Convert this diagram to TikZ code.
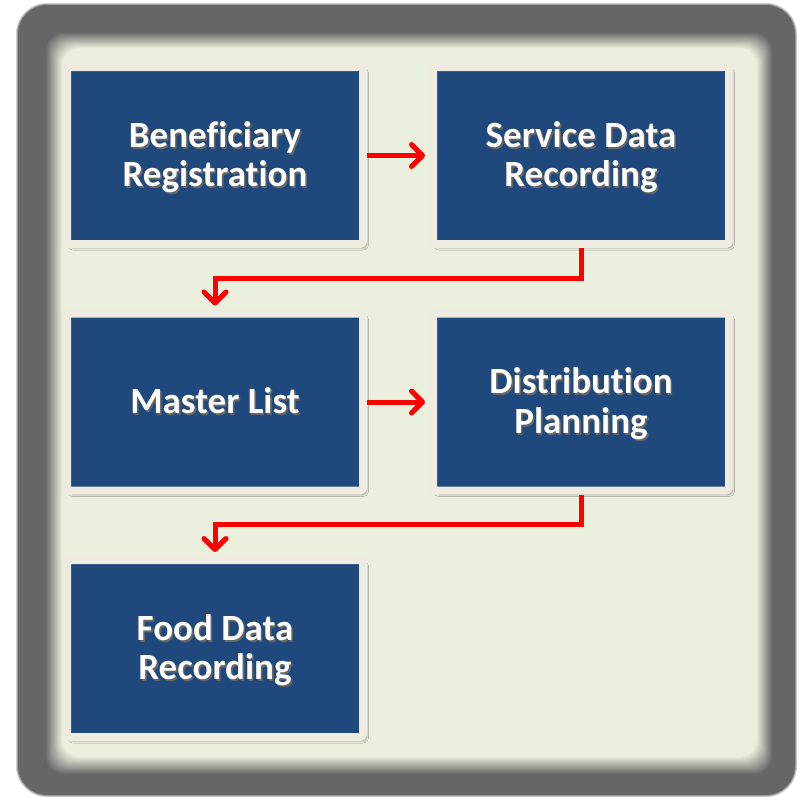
\documentclass[tikz,border=0pt]{standalone}
\usepackage{fontspec}
\setmainfont{Carlito}[Ligatures=NoCommon]
\usetikzlibrary{arrows.meta,shadows.blur}
\definecolor{framegray}{RGB}{102,102,102}
\definecolor{bgc}{RGB}{235,239,222}
\definecolor{boxblue}{RGB}{31,73,125}
\definecolor{cream}{RGB}{238,236,225}
\definecolor{arrred}{RGB}{255,0,0}
\newcommand\shtxt[1]{\raisebox{0pt}[\dimexpr\height+9pt\relax][\depth]{\makebox[0pt][l]{\hspace{1.6pt}\raisebox{-1.8pt}{\textcolor{black!60}{\begin{tabular}{@{}c@{}}#1\end{tabular}}}}\begin{tabular}{@{}c@{}}#1\end{tabular}}}
\tikzset{
  stepbox/.style={draw=cream, line width=8pt, fill=boxblue, rounded corners=3pt,
    minimum width=296pt, minimum height=177pt, inner sep=0pt,
    blur shadow={shadow xshift=3pt, shadow yshift=-3.5pt, shadow blur radius=2.5pt, shadow opacity=45},
    text=white, font=\fontsize{37}{39.5}\selectfont\bfseries},
  arr/.style={draw=arrred, line width=5pt, line join=miter,
    -{Straight Barb[length=11pt,width=22pt,line cap=round,line join=round]}, shorten >=4pt}
}
\begin{document}
\begin{tikzpicture}[x=1pt,y=-1pt]
\useasboundingbox (0,0) rectangle (804,798);
% outer frame
\fill[framegray!30!white, rounded corners=31pt] (16,3) rectangle (797,797);
\fill[framegray!65!white, rounded corners=30pt] (17,4) rectangle (796,796);
\fill[framegray, rounded corners=29pt] (18,5) rectangle (795,795);
\foreach \i in {0,...,20}{
  \pgfmathsetmacro\p{\i*5}
  \pgfmathsetmacro\l{45+\i*0.85}
  \pgfmathsetmacro\t{32+\i*0.8}
  \pgfmathsetmacro\r{773-\i*0.8}
  \pgfmathsetmacro\b{775-\i*0.9}
  \fill[bgc!\p!framegray, rounded corners=18pt] (\l,\t) rectangle (\r,\b);
}
% boxes
\node[stepbox] (b1) at (215,155.5) {\shtxt{Beneficiary\\Registration}};
\node[stepbox] (b2) at (581,155.5) {\shtxt{Service Data\\Recording}};
\node[stepbox] (b3) at (215,402) {\shtxt{Master List}};
\node[stepbox] (b4) at (581,402) {\shtxt{Distribution\\Planning}};
\node[stepbox] (b5) at (215,648.5) {\shtxt{Food Data\\Recording}};
% connectors
\draw[arr] (b1.east) -- (b2.west);
\draw[arr] (b3.east) -- (b4.west);
\draw[arr] (b2.south) -- ++(0,30) -| (b3.north);
\draw[arr] (b4.south) -- ++(0,30) -| (b5.north);
\end{tikzpicture}
\end{document}
